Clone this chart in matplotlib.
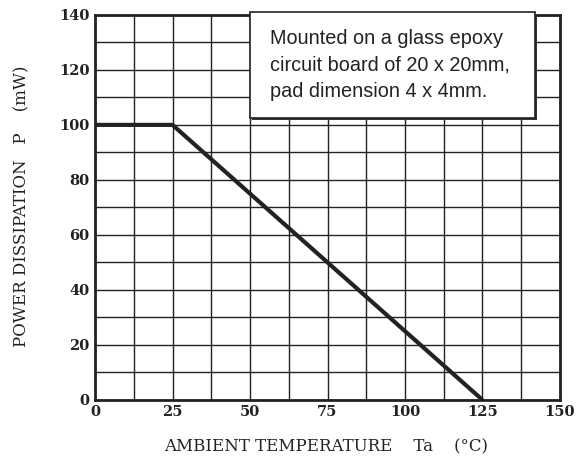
import matplotlib
matplotlib.use("Agg")
import matplotlib.pyplot as plt
import numpy as np
from matplotlib.patches import Rectangle

# derating curve
temp = [0, 25, 125]
power = [100, 100, 0]
x_ticks = [0, 25, 50, 75, 100, 125, 150]
y_ticks = [0, 20, 40, 60, 80, 100, 120, 140]
note = "Mounted on a glass epoxy\ncircuit board of 20 x 20mm,\npad dimension 4 x 4mm."

fig = plt.figure(figsize=(5.83, 4.65), dpi=100)
ax = fig.add_axes([0.163, 0.140, 0.7975, 0.828])

ax.set_xlim(0, 150)
ax.set_ylim(0, 140)
ax.set_xticks(x_ticks)
ax.set_yticks(y_ticks)
ax.set_xticks(np.arange(0, 151, 12.5), minor=True)
ax.set_yticks(np.arange(0, 141, 10), minor=True)
ax.grid(True, which="both", color="#222222", linewidth=1.0)
ax.tick_params(which="both", length=0)
ax.tick_params(axis="x", pad=4)
ax.tick_params(axis="y", pad=4)
for lbl in ax.get_xticklabels() + ax.get_yticklabels():
    lbl.set_family("DejaVu Serif")
    lbl.set_fontsize(10.5)
    lbl.set_fontweight("bold")
    lbl.set_color("#222222")
for sp in ax.spines.values():
    sp.set_linewidth(2.0)
    sp.set_color("#222222")

ax.plot(temp, power, color="#222222", linewidth=3.0, solid_capstyle="butt", zorder=5)

# note box with shadow
shadow = Rectangle((50.6, 101.9), 92.0, 38.4, transform=ax.transData,
                   facecolor="#333333", edgecolor="none", zorder=6, clip_on=False)
box = Rectangle((50, 102.5), 92.0, 38.4, transform=ax.transData,
                facecolor="white", edgecolor="#222222", linewidth=1.2, zorder=7, clip_on=False)
ax.add_patch(shadow)
ax.add_patch(box)
ax.text(56.5, 134.8, note, family="Liberation Sans", fontsize=14.3, color="#222222",
        va="top", ha="left", linespacing=1.5, zorder=8)

fig.text(326 / 583, 1 - 447 / 465, "AMBIENT TEMPERATURE    Ta    (\u00b0C)",
         family="DejaVu Serif", fontsize=12, color="#222222", ha="center", va="center")
fig.text(22 / 583, 1 - 206 / 465, "POWER DISSIPATION   P    (mW)",
         family="DejaVu Serif", fontsize=12, color="#222222", ha="center", va="center",
         rotation=90)

fig.savefig("out.png", dpi=100)
